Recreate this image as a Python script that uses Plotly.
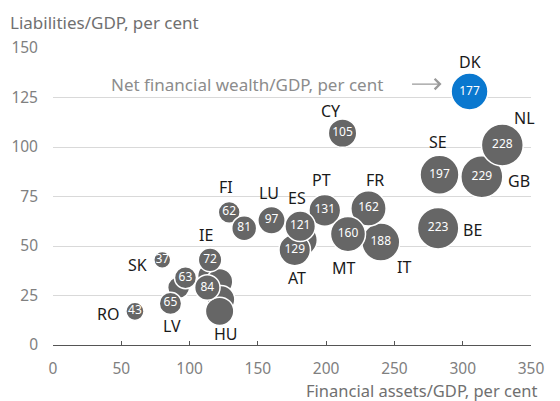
import plotly.graph_objects as go

# ---- data ----
# hidden/overlapped bubbles first, then visible ones (draw order)
countries = ["", "", "", "HU", "", "",
             "RO", "SK", "LV", "", "", "IE", "FI", "", "LU", "AT",
             "PT", "ES", "IT", "FR", "MT", "CY", "BE", "SE", "GB", "NL", "DK"]
assets = [115, 122, 123, 122, 92, 182,
          60, 80, 86, 97, 113, 115, 129, 140, 160, 177,
          199, 181, 240, 231, 216, 212, 282, 283, 314, 329, 305]
liabilities = [35, 32, 23, 17, 29, 53,
               17, 43, 21, 34, 29, 43, 67, 59, 63, 48,
               68, 60, 52, 69, 56, 107, 59, 86, 85, 101, 128]
net_wealth = [80, 90, 100, 105, 63, 129,
              43, 37, 65, 63, 84, 72, 62, 81, 97, 129,
              131, 121, 188, 162, 160, 105, 223, 197, 229, 228, 177]
show_value = [False, False, False, False, False, False,
              True, True, True, True, True, True, True, True, True, True,
              True, True, True, True, True, True, True, True, True, True, True]

x_ticks = [0, 50, 100, 150, 200, 250, 300, 350]
y_ticks = [0, 25, 50, 75, 100, 125, 150]

# label offsets in pixels (style only): (dx, dy) ; dy positive = down
label_offsets = {
    "DK": (0, -30), "NL": (22, -27), "GB": (37, 4), "SE": (-2, -33),
    "BE": (34, 2), "CY": (-12, -22), "FR": (7, -28), "IT": (23, 25),
    "MT": (-4, 34), "PT": (-3, -30), "ES": (-3, -28), "AT": (2, 28),
    "LU": (-3, -27), "FI": (-3, -25), "IE": (-4, -25), "SK": (-25, 5),
    "RO": (-27, 3), "LV": (2, 23), "HU": (6, 23),
}

GREY = "#666666"
BLUE = "#0A78CF"
FONT = "Noto Sans"

colors = [BLUE if c == "DK" else GREY for c in countries]
texts = [str(v) if s else "" for v, s in zip(net_wealth, show_value)]

fig = go.Figure()
fig.add_trace(go.Scatter(
    x=assets, y=liabilities,
    mode="markers+text",
    text=texts,
    textposition="middle center",
    textfont=dict(family=FONT, size=12, color="white"),
    marker=dict(
        size=net_wealth, sizemode="area", sizeref=0.26,
        color=colors, opacity=1,
        line=dict(color="white", width=1.5),
    ),
    cliponaxis=False,
    hoverinfo="skip",
    showlegend=False,
))

annotations = []
for c, xa, yl in zip(countries, assets, liabilities):
    if c in label_offsets:
        dx, dy = label_offsets[c]
        annotations.append(dict(
            x=xa, y=yl, xref="x", yref="y", text=c, showarrow=False,
            xshift=dx, yshift=-dy,
            font=dict(family=FONT, size=16, color="#1a1a1a"),
        ))

# explanatory note with arrow
annotations.append(dict(
    x=243, y=131.5, xref="x", yref="y",
    text="Net financial wealth/GDP, per cent", showarrow=False,
    xanchor="right", yanchor="middle",
    font=dict(family=FONT, size=17, color="#8c8c8c"),
))
annotations.append(dict(
    x=284.5, y=131.8, xref="x", yref="y", text="",
    showarrow=True, ax=-31, ay=0, arrowhead=4, arrowsize=1.7,
    arrowwidth=1.2, arrowcolor="#9a9a9a",
))
# axis titles
annotations.append(dict(
    x=1.017, y=-0.154, xref="paper", yref="paper",
    text="Financial assets/GDP, per cent", showarrow=False,
    xanchor="right", yanchor="middle",
    font=dict(family=FONT, size=16.5, color="#707070"),
))
annotations.append(dict(
    x=-0.094, y=1.085, xref="paper", yref="paper",
    text="Liabilities/GDP, per cent", showarrow=False,
    xanchor="left", yanchor="middle",
    font=dict(family=FONT, size=17, color="#707070"),
))

fig.update_layout(
    width=560, height=401,
    margin=dict(l=53, r=29, t=48, b=56),
    paper_bgcolor="white", plot_bgcolor="white",
    annotations=annotations,
    xaxis=dict(
        range=[0, 350], tickvals=x_ticks, ticktext=[str(t) for t in x_ticks],
        showgrid=False, zeroline=False,
        showline=True, linecolor="#555555", linewidth=1,
        ticks="inside", ticklen=4, tickcolor="#555555",
        tickfont=dict(family=FONT, size=15.5, color="#808080"),
        ticklabelstandoff=9,
        fixedrange=True,
    ),
    yaxis=dict(
        range=[0, 150], tickvals=y_ticks, ticktext=[str(t) for t in y_ticks],
        showgrid=True, gridcolor="#d9d9d9", gridwidth=1,
        zeroline=False, showline=False, ticks="",
        tickfont=dict(family=FONT, size=15.5, color="#808080"),
        ticklabelstandoff=14,
        fixedrange=True,
    ),
)

fig.write_html(
    "out.html",
    config={"displayModeBar": False},
    post_script="document.body.style.margin='0';document.body.style.overflow='hidden';",
)
